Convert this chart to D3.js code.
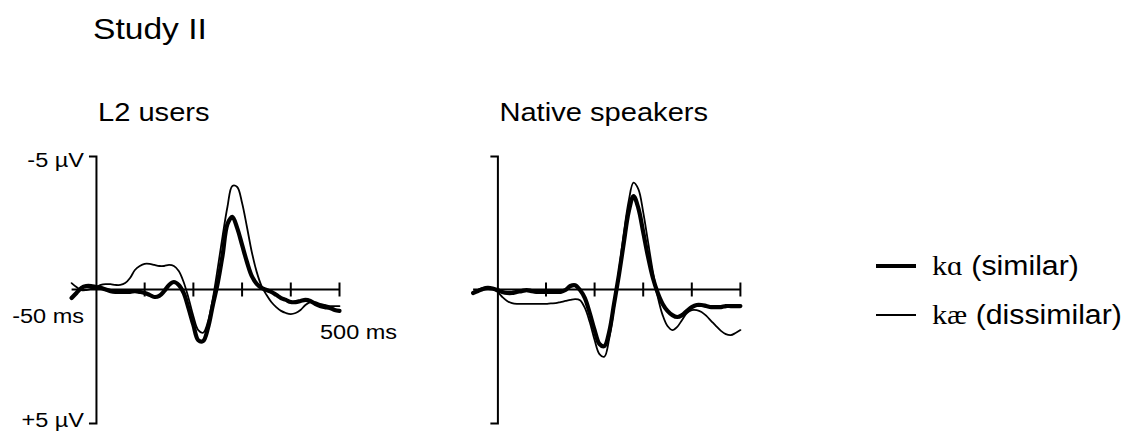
<!DOCTYPE html>
<html>
<head>
<meta charset="utf-8">
<script src="https://cdn.jsdelivr.net/npm/d3@7"></script>
<style>
  body { margin: 0; background: #fff; }
  text { font-family: "Liberation Sans", Arial, Helvetica, sans-serif; fill: #000; }
  .serif { font-family: "Liberation Serif", "Times New Roman", serif; }
</style>
</head>
<body>
<svg id="chart" width="1136" height="432"></svg>
<script>
// Sample times (ms) for every waveform
const timeMs = [-50, -40, -30, -20, -10, 0, 10, 20, 30, 40, 50, 60, 70, 80, 90,
  100, 110, 120, 130, 140, 150, 160, 170, 180, 190, 200, 210, 220, 230, 240,
  250, 260, 270, 280, 290, 300, 310, 320, 330, 340, 350, 360, 370, 380, 390,
  400, 410, 420, 430, 440, 450, 460, 470, 480, 490, 500];

// Amplitudes in µV (negative plotted up)
const l2Similar = [0.32, 0.13, -0.06, -0.13, -0.13, -0.09, -0.06, 0.0, 0.06, 0.09, 0.09, 0.09, 0.09, 0.06, 0.09,
  0.13, 0.2, 0.28, 0.24, 0.06, -0.17, -0.28, -0.17, 0.13, 0.7, 1.33, 1.9, 1.93, 1.44, 0.58,
  -0.24, -1.29, -2.45, -2.72, -2.3, -1.67, -1.03, -0.5, -0.21, -0.06, 0.02, 0.09, 0.2, 0.32, 0.39,
  0.47, 0.47, 0.43, 0.39, 0.43, 0.54, 0.62, 0.66, 0.69, 0.77, 0.8];

const l2Dissimilar = [-0.24, -0.09, 0.02, 0.02, -0.02, -0.09, -0.17, -0.2, -0.2, -0.17, -0.17, -0.24, -0.43, -0.73, -0.88,
  -0.96, -0.96, -0.92, -0.88, -0.88, -0.92, -0.88, -0.69, -0.28, 0.32, 1.0, 1.52, 1.62, 1.2, 0.33,
  -0.8, -2.0, -3.1, -3.88, -3.84, -3.24, -2.34, -1.4, -0.66, -0.13, 0.2, 0.47, 0.66, 0.8, 0.88,
  0.92, 0.88, 0.77, 0.58, 0.47, 0.47, 0.54, 0.58, 0.62, 0.62, 0.62];

const nativeSimilar = [0.13, 0.06, -0.02, -0.06, -0.04, 0.02, 0.09, 0.13, 0.13, 0.09, 0.06, 0.02, 0.06, 0.09, 0.09,
  0.09, 0.09, 0.09, 0.09, 0.02, -0.13, -0.16, 0.02, 0.32, 0.88, 1.52, 2.04, 2.12, 1.59, 0.54,
  -0.54, -1.74, -2.9, -3.5, -3.05, -2.15, -1.22, -0.43, 0.13, 0.54, 0.8, 0.96, 1.03, 0.96, 0.8,
  0.66, 0.58, 0.58, 0.62, 0.66, 0.66, 0.66, 0.62, 0.62, 0.62, 0.62];

const nativeDissimilar = [0.09, 0.02, -0.06, -0.06, -0.02, 0.09, 0.28, 0.43, 0.51, 0.54, 0.54, 0.54, 0.54, 0.54, 0.54,
  0.54, 0.52, 0.51, 0.47, 0.43, 0.39, 0.36, 0.4, 0.69, 1.22, 1.89, 2.42, 2.52, 1.85, 0.68,
  -0.69, -2.1, -3.3, -4.0, -3.76, -2.9, -1.78, -0.66, 0.28, 0.96, 1.37, 1.52, 1.4, 1.14, 0.88,
  0.77, 0.77, 0.84, 0.99, 1.18, 1.37, 1.55, 1.67, 1.71, 1.63, 1.52];

const timeTicks = [100, 200, 300, 400, 500];
const panelTitles = ["L2 users", "Native speakers"];
const legendLabels = [["kɑ", " (similar)"], ["kæ", " (dissimilar)"]];

const svg = d3.select("#chart");
const STRETCH = 1.12;

function label(g, x, y, str, size, anchor) {
  return g.append("text")
    .attr("transform", `translate(${x},${y}) scale(${STRETCH},1)`)
    .attr("font-size", size)
    .attr("text-anchor", anchor || "start")
    .text(str);
}

label(svg, 93, 39, "Study II", 30);

const yScale = d3.scaleLinear().domain([-5, 5]).range([156, 423]);

const panels = [
  { title: panelTitles[0], left: 71.6, right: 339.5, series: [l2Similar, l2Dissimilar], labels: true },
  { title: panelTitles[1], left: 473.1, right: 740.4, series: [nativeSimilar, nativeDissimilar], labels: false }
];

const widths = [4.2, 1.8];

panels.forEach(p => {
  const x = d3.scaleLinear().domain([-50, 500]).range([p.left, p.right]);
  const g = svg.append("g");

  label(g, x(0) + 2, 121, p.title, 26);

  // vertical amplitude bracket
  g.append("g")
    .attr("transform", `translate(${x(0)},0)`)
    .call(d3.axisLeft(yScale).tickValues([]).tickSizeOuter(7))
    .call(a => a.select(".domain").attr("stroke", "#000").attr("stroke-width", 2).attr("fill", "none"));

  // time axis at 0 µV with ticks crossing the line
  g.append("line")
    .attr("x1", x(-50)).attr("x2", x(500))
    .attr("y1", yScale(0)).attr("y2", yScale(0))
    .attr("stroke", "#000").attr("stroke-width", 2);
  g.selectAll(".tk").data(timeTicks).join("line")
    .attr("x1", d => x(d)).attr("x2", d => x(d))
    .attr("y1", yScale(0) - 7).attr("y2", yScale(0) + 7)
    .attr("stroke", "#000").attr("stroke-width", 2);

  const line = d3.line()
    .x((d, i) => x(timeMs[i]))
    .y(d => yScale(d))
    .curve(d3.curveCatmullRom.alpha(0.5));

  p.series.forEach((s, k) => {
    g.append("path")
      .attr("d", line(s))
      .attr("fill", "none")
      .attr("stroke", "#000")
      .attr("stroke-width", widths[k])
      .attr("stroke-linejoin", "round")
      .attr("stroke-linecap", "round");
  });

  if (p.labels) {
    label(g, 84, 167, "-5 µV", 21, "end");
    label(g, 84, 427, "+5 µV", 21, "end");
    label(g, 84, 323, "-50 ms", 21, "end");
    label(g, 320, 339, "500 ms", 21, "start");
  }
});

// legend
const legend = svg.append("g");
legendLabels.forEach((lab, i) => {
  const ly = 266 + i * 49;
  legend.append("line")
    .attr("x1", 876).attr("x2", 916)
    .attr("y1", ly).attr("y2", ly)
    .attr("stroke", "#000").attr("stroke-width", widths[i]);
  const t = legend.append("text")
    .attr("transform", `translate(932,${ly + 9}) scale(${STRETCH},1)`)
    .attr("font-size", 27);
  t.append("tspan").attr("class", "serif").text(lab[0]);
  t.append("tspan").text(lab[1]);
});
</script>
</body>
</html>
